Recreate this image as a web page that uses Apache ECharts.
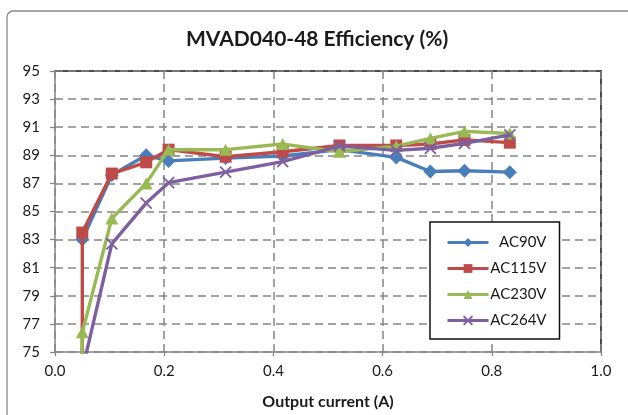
<!DOCTYPE html>
<html>
<head>
<meta charset="utf-8">
<script src="https://cdn.jsdelivr.net/npm/echarts@6/dist/echarts.min.js"></script>
<style>
  html, body { margin: 0; padding: 0; background: #fff; }
  #chart { width: 628px; height: 415px; }
</style>
</head>
<body>
<div id="chart"></div>
<script>
// ---- data ----
const titleText = 'MVAD040-48 Efficiency (%)';
const xAxisName = 'Output current (A)';
const seriesNames = ['AC90V', 'AC115V', 'AC230V', 'AC264V'];
const current = [0.05, 0.104, 0.167, 0.208, 0.3125, 0.417, 0.521, 0.625, 0.6875, 0.75, 0.833];
const ac90v  = [83.0, 87.6, 89.0, 88.6, 88.8, 88.95, 89.4, 88.85, 87.85, 87.9, 87.8];
const ac115v = [83.5, 87.7, 88.5, 89.4, 88.9, 89.25, 89.7, 89.7, 89.8, 90.1, 89.9];
const ac230v = [76.4, 84.5, 87.0, 89.4, 89.4, 89.8, 89.25, 89.65, 90.2, 90.7, 90.55];
const ac264v = [73.7, 82.7, 85.6, 87.05, 87.8, 88.55, 89.65, 89.35, 89.5, 89.85, 90.45];
// light-load readings that fall below the 75 % floor (drawn, then clipped)
const lowCurrent = [null, 0.05, 0.048, null];
const lowValue   = [null, 70, 70, null];
const yTicks = [75, 77, 79, 81, 83, 85, 87, 89, 91, 93, 95];
const xTicks = [0, 0.2, 0.4, 0.6, 0.8, 1.0];

// ---- styling ----
const colors = ['#4A7EBB', '#BE4B48', '#98B954', '#7D60A0'];
const symbols = ['diamond', 'rect', 'triangle', 'path://M0,0 L10,10 M10,0 L0,10'];
const symbolSizes = [[14, 14], [12, 12], [13, 12], [11, 11]];
const FONT = 'Lato';
const TXT = '#1a1a1a';
const valueSets = [ac90v, ac115v, ac230v, ac264v];

const series = seriesNames.map((name, i) => {
  const pts = current.map((c, k) => [c, valueSets[i][k]]);
  if (lowCurrent[i] !== null) pts.unshift([lowCurrent[i], lowValue[i]]);
  return {
    name: name,
    type: 'line',
    data: pts,
    xAxisIndex: 0,
    yAxisIndex: 0,
    symbol: symbols[i],
    symbolSize: symbolSizes[i],
    showAllSymbol: true,
    clip: true,
    lineStyle: { color: colors[i], width: 3.4 },
    itemStyle: i === 3
      ? { color: colors[i], borderColor: colors[i], borderWidth: 1.8 }
      : { color: colors[i], borderWidth: 0 },
    emphasis: { disabled: true },
    z: 3 + i
  };
});

const chart = echarts.init(document.getElementById('chart'), null, { renderer: 'canvas' });
chart.setOption({
  animation: false,
  backgroundColor: '#fff',
  textStyle: { fontFamily: FONT },
  graphic: [{
    type: 'rect',
    shape: { x: 7, y: 11, width: 680, height: 460, r: 6 },
    style: { fill: 'none', stroke: '#8a8a8a', lineWidth: 1.3 },
    z: -10,
    silent: true
  }],
  title: {
    text: titleText,
    left: 186,
    top: 29,
    padding: 0,
    textStyle: { fontFamily: FONT, fontWeight: 'bold', fontSize: 21, color: TXT }
  },
  grid: { left: 55, top: 71, right: 27, bottom: 63, containLabel: false },
  legend: {
    orient: 'vertical',
    left: 430,
    top: 222,
    padding: [13, 13, 11, 16],
    itemGap: 11,
    itemWidth: 41,
    itemHeight: 11,
    backgroundColor: '#fff',
    borderColor: '#111',
    borderWidth: 1.5,
    data: seriesNames,
    lineStyle: { width: 3 },
    formatter: (n) => '{a|' + n + '}',
    textStyle: {
      fontFamily: FONT, fontSize: 15, color: TXT,
      rich: { a: { width: 53, align: 'right', fontFamily: FONT, fontSize: 15, color: TXT, lineHeight: 14 } }
    },
    z: 20
  },
  xAxis: [{
    type: 'value',
    min: 0, max: 1.0, interval: 0.2,
    name: xAxisName,
    nameLocation: 'middle',
    nameGap: 42,
    nameTextStyle: { fontFamily: FONT, fontWeight: 'bold', fontSize: 16, color: TXT },
    axisLine: { show: true, lineStyle: { color: '#868686', width: 1.5 } },
    axisTick: { show: true, length: 4, customValues: xTicks, lineStyle: { color: '#868686', width: 1.3 } },
    axisLabel: { customValues: xTicks, margin: 12, fontFamily: FONT, fontSize: 15, color: TXT,
      formatter: (v) => v.toFixed(1) },
    splitLine: { show: true, lineStyle: { color: '#858585', width: 1.5, type: [8, 5] } },
    z: 2
  }, {
    type: 'value', position: 'top', min: 0, max: 1.0,
    axisLine: { show: true, onZero: false, lineStyle: { color: '#111', width: 1.5 } },
    axisTick: { show: false }, axisLabel: { show: false }, splitLine: { show: false }
  }],
  yAxis: [{
    type: 'value',
    min: 75, max: 95,
    axisLine: { show: true, onZero: false, lineStyle: { color: '#868686', width: 1.5 } },
    axisTick: { show: true, length: 5, customValues: yTicks, lineStyle: { color: '#868686', width: 1.3 } },
    axisLabel: { customValues: yTicks, margin: 15, fontFamily: FONT, fontSize: 15, color: TXT },
    splitLine: { show: true, lineStyle: { color: '#858585', width: 1.5, type: [8, 5] } },
    z: 2
  }, {
    type: 'value', position: 'right', min: 75, max: 95,
    axisLine: { show: true, onZero: false, lineStyle: { color: '#111', width: 1.5 } },
    axisTick: { show: false }, axisLabel: { show: false }, splitLine: { show: false }
  }],
  series: series
});
</script>
</body>
</html>
